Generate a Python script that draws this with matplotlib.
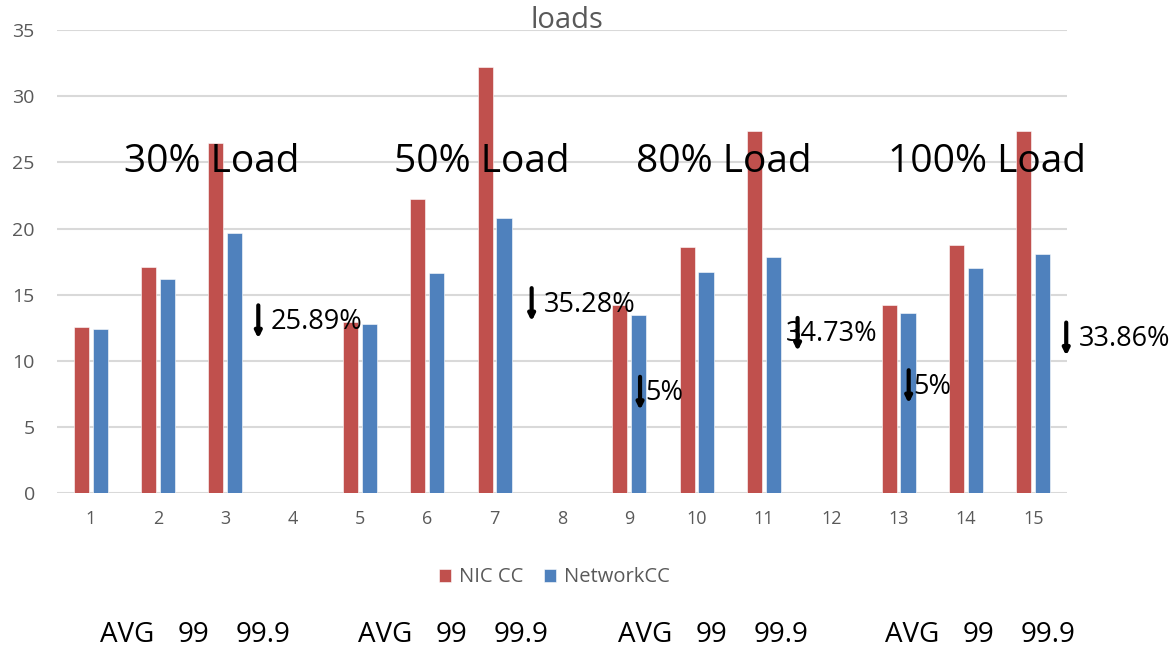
import matplotlib
matplotlib.use("Agg")
import matplotlib.pyplot as plt
import numpy as np

plt.rcParams['font.family'] = ['Open Sans', 'DejaVu Sans']

# data
categories = np.arange(1, 16)
nic_cc = [12.55, 17.1, 26.5, 0, 12.95, 22.2, 32.2, 0, 14.2, 18.6, 27.4, 0, 14.2, 18.75, 27.4]
network_cc = [12.4, 16.2, 19.65, 0, 12.8, 16.65, 20.8, 0, 13.45, 16.7, 17.85, 0, 13.6, 17.0, 18.1]

load_labels = ["30% Load", "50% Load", "80% Load", "100% Load"]
load_label_x = [1.5, 5.5, 9.1, 12.85]

drop_labels = ["25.89%", "35.28%", "5%", "34.73%", "5%", "33.86%"]
drop_x = [3.49, 7.55, 9.16, 11.5, 13.15, 15.49]
drop_top = [14.2, 15.5, 8.8, 13.25, 9.3, 12.9]
drop_text_x = [3.68, 7.73, 9.24, 11.33, 13.22, 15.68]

bottom_groups = ["AVG", "99", "99.9"]

red = "#C0504D"
blue = "#4F81BD"
grey = "#595959"

fig = plt.figure(figsize=(11.75, 6.48), dpi=100)
ax = fig.add_axes([0.0485, 0.2387, 0.8595, 0.715])

width = 0.225
off = 0.14
# empty categories (4, 8, 12) have no bars
mask = np.array(nic_cc) > 0
ax.bar(categories[mask] - off, np.array(nic_cc)[mask], width=width, color=red,
       edgecolor="white", linewidth=0.4, label="NIC CC", zorder=3)
ax.bar(categories[mask] + off, np.array(network_cc)[mask], width=width, color=blue,
       edgecolor="white", linewidth=0.4, label="NetworkCC", zorder=3)

ax.set_xlim(0.5, 15.5)
ax.set_ylim(0, 35)
ax.set_xticks(categories)
ax.set_yticks(np.arange(0, 36, 5))
ax.tick_params(axis='x', length=0, labelsize=13, colors=grey, pad=12)
ax.tick_params(axis='y', length=0, labelsize=14, colors=grey, pad=16)
ax.grid(axis='y', color="#D9D9D9", linewidth=1.5, zorder=0)
ax.set_axisbelow(True)
for s in ax.spines.values():
    s.set_visible(False)

# title sits low, over the top gridline
ax.text(0.505, 1.02, "loads", transform=ax.transAxes, fontsize=21, color=grey,
        ha="center", va="center")

for lab, x in zip(load_labels, load_label_x):
    ax.text(x, 25.0, lab, fontsize=28, color="black", ha="left", va="center", zorder=5)

for lab, x, top, tx in zip(drop_labels, drop_x, drop_top, drop_text_x):
    ax.annotate("", xy=(x, top - 2.5), xytext=(x, top),
                arrowprops=dict(arrowstyle="-|>", color="black", lw=3,
                                mutation_scale=9, shrinkA=0, shrinkB=0), zorder=6)
    ax.text(tx, top - 1.25, lab, fontsize=19.5, color="black", ha="left", va="center", zorder=6)

leg = fig.legend(loc="center", bbox_to_anchor=(0.472, 0.109), ncol=2, frameon=False,
                 fontsize=14.5, handlelength=0.6, handleheight=0.6, columnspacing=1.0,
                 handletextpad=0.4)
for t in leg.get_texts():
    t.set_color(grey)

# AVG / 99 / 99.9 row under the legend
group_starts = [100, 358, 618, 885]
label_offsets = [0, 78, 136]
for gs in group_starts:
    for lab, o in zip(bottom_groups, label_offsets):
        fig.text((gs + o) / 1175, 1 - 635 / 648, lab, fontsize=20, color="black",
                 ha="left", va="center")

plt.savefig("out.png", dpi=100)
